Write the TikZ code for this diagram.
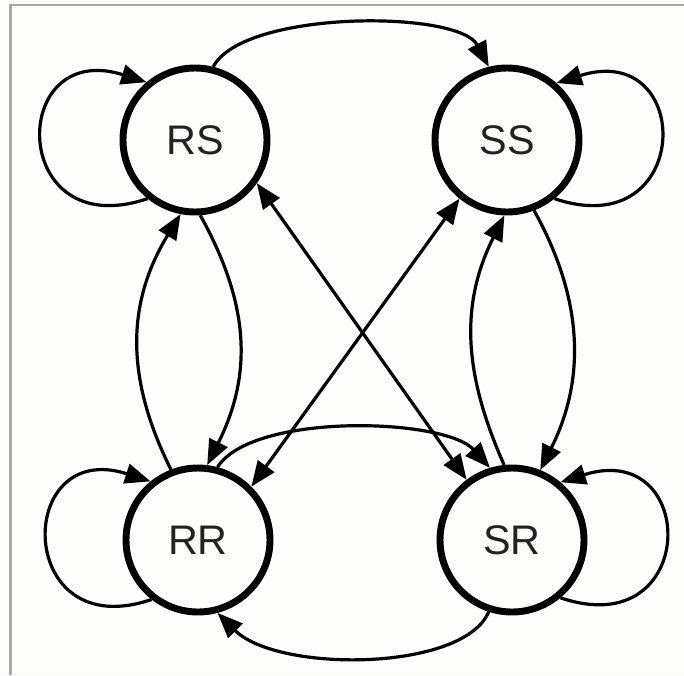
\documentclass[tikz,border=0pt]{standalone}
\usepackage{fontspec}
\setmainfont{Liberation Sans}
\usetikzlibrary{arrows.meta}
\definecolor{bg}{HTML}{FDFDFB}
\definecolor{frame}{HTML}{A8A8A8}
\definecolor{txt}{HTML}{222222}
\begin{document}
\begin{tikzpicture}[x=0.75pt,y=-0.75pt,
  state/.style={circle,draw=black,line width=5.2pt,fill=bg,minimum size=108pt,inner sep=0pt,
    font=\fontsize{31}{31}\selectfont,text=txt},
  edge/.style={line width=2.4pt,-{Triangle[length=19pt,width=15pt]}},
  dedge/.style={line width=2.4pt,{Triangle[length=19pt,width=15pt]}-{Triangle[length=19pt,width=15pt]}}]
\fill[bg] (0,0) rectangle (684,675);
\useasboundingbox (0,0) rectangle (684,675);
\draw[frame,line width=2pt] (10.5,675) -- (10.5,5) -- (684,5);
\node[state] (RS) at (195,140) {RS};
\node[state] (SS) at (507,140) {SS};
\node[state] (RR) at (198,540) {RR};
\node[state] (SR) at (512,540) {SR};
% self loops
\draw[edge] (RS.231) .. controls +(-139,47) and +(-139,-44) .. (RS.130);
\draw[edge] (SS.309) .. controls +(139,47) and +(139,-44) .. (SS.49);
\draw[edge] (RR.232) .. controls +(-137,47) and +(-137,-44) .. (RR.129);
\draw[edge] (SR.310) .. controls +(139,47) and +(139,-44) .. (SR.50);
% top and bottom arcs
\draw[edge] (RS.76) .. controls +(30,-57) and +(-30,-57) .. (SS.104);
\draw[edge] (SR.252) .. controls +(-25,60) and +(60,60) .. (RR.285);
\draw[edge] (RR.75) .. controls +(35,-55) and +(-45,-50) .. (SR.107);
% vertical pairs
\draw[edge] (RR.111) .. controls +(-45,-90) and +(-55,90) .. (RS.259);
\draw[edge] (RS.274) .. controls +(50,90) and +(45,-90) .. (RR.83);
\draw[edge] (SR.96) .. controls +(-40,-90) and +(-45,90) .. (SS.268);
\draw[edge] (SS.291) .. controls +(50,90) and +(45,-90) .. (SR.68);
% diagonals
\draw[dedge] (RS.325) -- (SR.127);
\draw[dedge] (SS.231) -- (RR.45);
\end{tikzpicture}
\end{document}
